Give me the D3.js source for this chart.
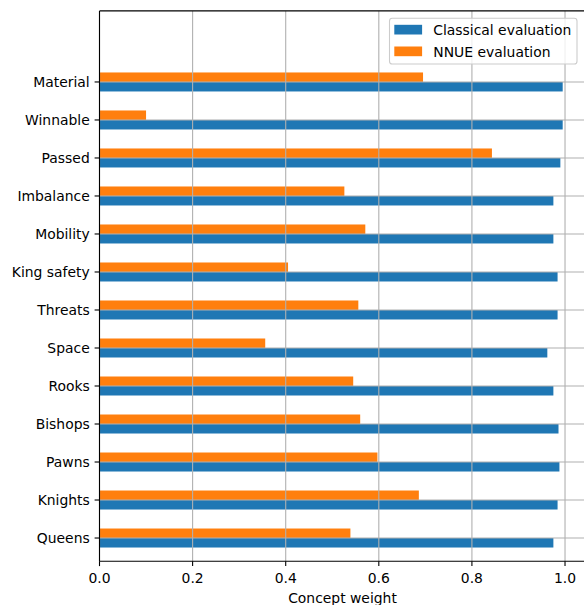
<!DOCTYPE html>
<html>
<head>
<meta charset="utf-8">
<script src="https://cdn.jsdelivr.net/npm/d3@7/dist/d3.min.js"></script>
<style>
  html, body { margin: 0; padding: 0; background: #ffffff; }
  svg { display: block; font-family: "DejaVu Sans", sans-serif; }
</style>
</head>
<body>
<svg id="chart" width="584" height="605"></svg>
<script>
// Evaluation concepts, listed top to bottom as they appear on the axis
const categories = ["Material", "Winnable", "Passed", "Imbalance", "Mobility", "King safety",
  "Threats", "Space", "Rooks", "Bishops", "Pawns", "Knights", "Queens"];
// Concept weight for the classical evaluation
const classicalValues = [0.995, 0.995, 0.990, 0.975, 0.975, 0.984, 0.984, 0.962, 0.975, 0.986, 0.988, 0.984, 0.975];
// Concept weight for the NNUE evaluation
const nnueValues = [0.695, 0.100, 0.843, 0.526, 0.571, 0.405, 0.556, 0.356, 0.545, 0.560, 0.597, 0.686, 0.539];
const xTicks = [0.0, 0.2, 0.4, 0.6, 0.8, 1.0];
const seriesNames = ["Classical evaluation", "NNUE evaluation"];
const seriesColors = ["#1f77b4", "#ff7f0e"];
const xLabel = "Concept weight";

(function draw() {
  const n = categories.length;
  const barHeight = 0.25;
  const fontSize = 13.9;
  const ink = "#000000";
  const gridColor = "#b0b0b0";

  const svg = d3.select("#chart");

  // Plot area bounds
  const plotLeft = 99.5, plotRight = 585.5, plotTop = 10.9, plotBottom = 561.2;
  const x = d3.scaleLinear().domain([0, 1.044]).range([plotLeft, plotRight]);
  // Position index: bottom category at 0, top category at n-1
  const y = d3.scaleLinear().domain([-0.61, 13.87]).range([plotBottom, plotTop]);
  const pos = i => n - 1 - i;

  const rows = categories.map((c, i) => ({
    name: c, p: pos(i), classical: classicalValues[i], nnue: nnueValues[i]
  }));

  // Bars: classical below the tick, NNUE above it
  const bars = svg.append("g");
  bars.selectAll("rect.classical").data(rows).join("rect")
    .attr("class", "classical")
    .attr("x", x(0))
    .attr("y", d => y(d.p))
    .attr("width", d => x(d.classical) - x(0))
    .attr("height", d => y(d.p - barHeight) - y(d.p))
    .attr("fill", seriesColors[0]);
  bars.selectAll("rect.nnue").data(rows).join("rect")
    .attr("class", "nnue")
    .attr("x", x(0))
    .attr("y", d => y(d.p + barHeight))
    .attr("width", d => x(d.nnue) - x(0))
    .attr("height", d => y(d.p) - y(d.p + barHeight))
    .attr("fill", seriesColors[1]);

  // Grid lines, drawn above the bars
  const grid = svg.append("g").attr("stroke", gridColor).attr("stroke-width", 1.1);
  grid.selectAll("line.v").data(xTicks).join("line")
    .attr("class", "v")
    .attr("x1", d => x(d)).attr("x2", d => x(d))
    .attr("y1", plotTop).attr("y2", plotBottom);
  grid.selectAll("line.h").data(rows).join("line")
    .attr("class", "h")
    .attr("x1", plotLeft).attr("x2", plotRight)
    .attr("y1", d => y(d.p)).attr("y2", d => y(d.p));

  // Axes
  const xAxis = d3.axisBottom(x)
    .tickValues(xTicks)
    .tickFormat(d3.format(".1f"))
    .tickSizeInner(4.9).tickSizeOuter(0).tickPadding(4.9)
    .offset(0);
  const yAxis = d3.axisLeft(y)
    .tickValues(rows.map(d => d.p))
    .tickFormat(p => categories[n - 1 - p])
    .tickSizeInner(4.9).tickSizeOuter(0).tickPadding(4.9)
    .offset(0);

  const gx = svg.append("g").attr("transform", `translate(0,${plotBottom})`).call(xAxis);
  const gy = svg.append("g").attr("transform", `translate(${plotLeft},0)`).call(yAxis);
  [gx, gy].forEach(g => {
    g.select(".domain").remove();
    g.selectAll(".tick line").attr("stroke", ink).attr("stroke-width", 1.1);
    g.selectAll(".tick text")
      .attr("fill", ink)
      .style("font-family", "'DejaVu Sans', sans-serif")
      .style("font-size", fontSize + "px");
  });
  gx.selectAll(".tick text").attr("dy", null).attr("y", 22);
  gy.selectAll(".tick text").attr("dy", "0.36em");

  // Spines
  const spines = svg.append("g").attr("stroke", ink).attr("stroke-width", 1.1).attr("fill", "none");
  spines.append("line").attr("x1", plotLeft).attr("x2", plotLeft).attr("y1", plotTop).attr("y2", plotBottom);
  spines.append("line").attr("x1", plotLeft).attr("x2", plotRight).attr("y1", plotBottom).attr("y2", plotBottom);
  spines.append("line").attr("x1", plotLeft).attr("x2", plotRight).attr("y1", plotTop).attr("y2", plotTop);
  spines.append("line").attr("x1", plotRight).attr("x2", plotRight).attr("y1", plotTop).attr("y2", plotBottom);

  // Axis label
  svg.append("text")
    .attr("x", (plotLeft + plotRight) / 2)
    .attr("y", 603)
    .attr("text-anchor", "middle")
    .attr("fill", ink)
    .style("font-size", fontSize + "px")
    .text(xLabel);

  // Legend in the upper right corner
  const legend = svg.append("g");
  legend.append("rect")
    .attr("x", 389.5).attr("y", 18.3)
    .attr("width", 187.5).attr("height", 45.7)
    .attr("rx", 2.8).attr("ry", 2.8)
    .attr("fill", "#ffffff").attr("fill-opacity", 0.8)
    .attr("stroke", "#cccccc").attr("stroke-width", 1.1);
  const rowCenters = [29.7, 51.4];
  seriesNames.forEach((name, i) => {
    legend.append("rect")
      .attr("x", 394.3).attr("y", rowCenters[i] - 4.9)
      .attr("width", 27.8).attr("height", 9.7)
      .attr("fill", seriesColors[i]);
    legend.append("text")
      .attr("x", 433.3).attr("y", rowCenters[i] + 5.1)
      .attr("fill", ink)
      .style("font-size", fontSize + "px")
      .text(name);
  });
})();
</script>
</body>
</html>
